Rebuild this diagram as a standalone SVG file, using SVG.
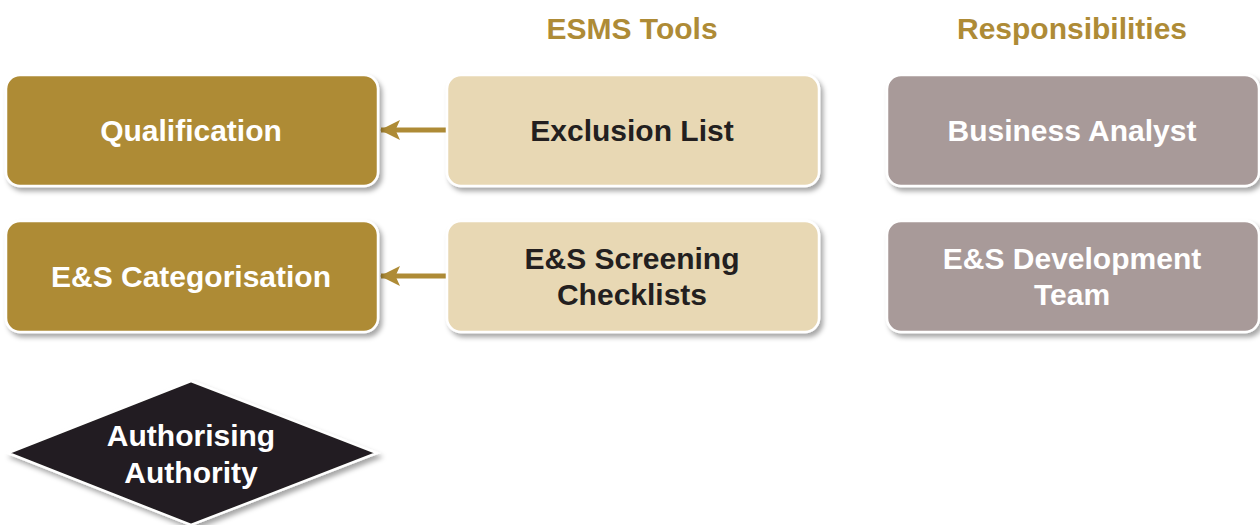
<svg xmlns="http://www.w3.org/2000/svg" width="1260" height="525" viewBox="0 0 1260 525">
  <style>
    text { font-family: "Liberation Sans", Arial, sans-serif; font-weight: bold; font-size: 30px; text-anchor: middle; }
    .head { fill: #AE8B36; }
    .light { fill: #FFFFFF; }
    .dark { fill: #231F20; }
    .box { stroke: #FFFFFF; stroke-width: 2.5; filter: url(#shadow); }
    .gold { fill: #AE8B36; }
    .beige { fill: #E8D8B4; }
    .mauve { fill: #A89A99; }
    .ink { fill: #231F20; }
    .conn { stroke: #AE8B36; stroke-width: 5; fill: none; marker-end: url(#arrow); }
  </style>
  <defs>
    <filter id="shadow" x="-10%" y="-20%" width="130%" height="150%">
      <feDropShadow dx="3" dy="4" stdDeviation="2.5" flood-color="#000000" flood-opacity="0.35"/>
    </filter>
    <marker id="arrow" markerWidth="4" markerHeight="4" refX="3.8" refY="2" orient="auto" markerUnits="strokeWidth">
      <path d="M0,0 L4,2 L0,4 L0.9,2 Z" fill="#AE8B36"/>
    </marker>
  </defs>

  <rect width="1260" height="525" fill="#FFFFFF"/>

  <!-- column headings -->
  <text class="head" x="632" y="39">ESMS Tools</text>
  <text class="head" x="1072" y="39">Responsibilities</text>

  <!-- connectors -->
  <g id="connectors">
    <line class="conn" x1="447" y1="130" x2="381" y2="130"/>
    <line class="conn" x1="447" y1="276" x2="381" y2="276"/>
  </g>

  <!-- process steps -->
  <g id="qualification">
    <rect class="box gold" x="6" y="75" width="372" height="111" rx="14"/>
    <text class="light" x="191" y="141">Qualification</text>
  </g>
  <g id="categorisation">
    <rect class="box gold" x="6" y="221" width="372" height="111" rx="14"/>
    <text class="light" x="191" y="287">E&amp;S Categorisation</text>
  </g>

  <!-- tools -->
  <g id="exclusion-list">
    <rect class="box beige" x="447" y="75" width="372" height="111" rx="14"/>
    <text class="dark" x="632" y="141">Exclusion List</text>
  </g>
  <g id="screening-checklists">
    <rect class="box beige" x="447" y="221" width="372" height="111" rx="14"/>
    <text class="dark" x="632" y="269">E&amp;S Screening</text>
    <text class="dark" x="632" y="305">Checklists</text>
  </g>

  <!-- responsibilities -->
  <g id="business-analyst">
    <rect class="box mauve" x="887" y="75" width="372" height="111" rx="14"/>
    <text class="light" x="1072" y="141">Business Analyst</text>
  </g>
  <g id="development-team">
    <rect class="box mauve" x="887" y="221" width="372" height="111" rx="14"/>
    <text class="light" x="1072" y="269">E&amp;S Development</text>
    <text class="light" x="1072" y="305">Team</text>
  </g>

  <!-- decision -->
  <g id="authorising-authority">
    <polygon class="box ink" points="191,381 377,453 191,525 8,453"/>
    <text class="light" x="191" y="446">Authorising</text>
    <text class="light" x="191" y="483">Authority</text>
  </g>
</svg>
